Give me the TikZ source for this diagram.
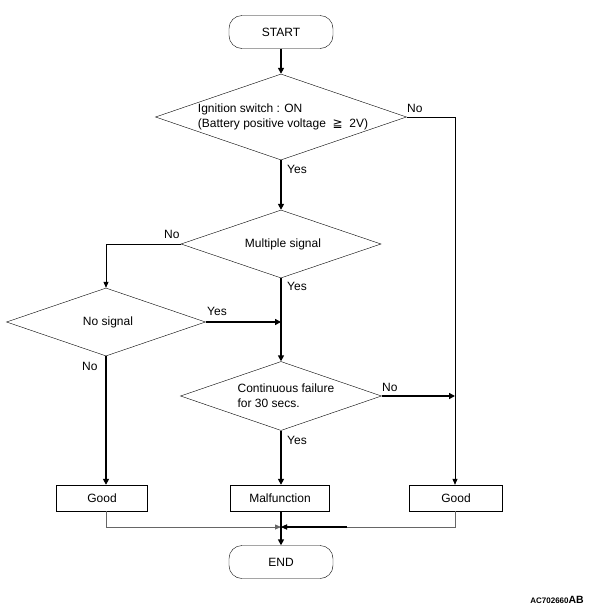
\documentclass[tikz,border=0pt]{standalone}
\usepackage{fontspec}
\setmainfont{Liberation Sans}
\newfontfamily\symfont{DejaVu Sans}
\usetikzlibrary{shapes.geometric,arrows.meta}
\begin{document}
\begin{tikzpicture}[x=1pt,y=-1pt,
  every node/.style={font=\fontsize{12}{15}\selectfont},
  term/.style={draw,rounded corners=13pt,minimum width=104pt,minimum height=33pt,inner sep=0pt},
  dec/.style={draw,diamond,inner sep=0pt},
  dtext/.style={inner sep=0pt,align=left},
  boxn/.style={draw,minimum height=26pt,inner sep=0pt},
  thick flow/.style={line width=2.2pt,-{Triangle[length=6pt,width=6pt]}},
  thin flow/.style={line width=0.8pt,-{Triangle[length=6pt,width=5pt]}},
  lbl/.style={inner sep=0pt,anchor=west}]
\useasboundingbox (0,0) rectangle (595,611);
\node[term] (start) at (281,32) {START};
\node[dec,minimum width=251pt,minimum height=86pt] (d1) at (281,117) {};
\node[dtext] (t1) at (283,117) {Ignition switch : ON\\(Battery positive voltage\ \ {\symfont ≧}\ \ 2V)};
\node[dec,minimum width=200pt,minimum height=68pt] (d2) at (281,244) {};
\node[dtext] (t2) at (283,244) {Multiple signal};
\node[dec,minimum width=199pt,minimum height=68pt] (d3) at (106,322) {};
\node[dtext] (t3) at (108,322) {No signal};
\node[dec,minimum width=201pt,minimum height=69pt] (d4) at (281,396) {};
\node[dtext] (t4) at (286,396) {Continuous failure\\for 30 secs.};
\node[boxn,minimum width=91pt] (g1) at (102,498) {Good};
\node[boxn,minimum width=99pt] (mal) at (280,498) {Malfunction};
\node[boxn,minimum width=93pt] (g2) at (456,498) {Good};
\node[term] (end) at (281,562) {END};
\coordinate (c1) at (455,117);
\coordinate (c2) at (106,244);
\coordinate (m3) at (281,322);
\coordinate (m4) at (455,396);
\coordinate (j) at (281,527);
% flows
\draw[thick flow] (start.south) -- (d1.north);
\draw[thick flow] (d1.south) -- (d2.north);
\draw[thick flow] (d2.south) -- (d4.north);
\draw[thick flow] (d3.east) -- (m3);
\draw[thick flow] (d3.south) -- (g1.north -| d3.south);
\draw[thick flow] (d4.south) -- (mal.north -| d4.south);
\draw[thick flow] (d4.east) -- (m4);
\draw[thin flow] (d1.east) -- (c1) -- (g2.north -| c1);
\draw[thin flow] (d2.west) -- (c2) -- (d3.north);
\draw[thin flow,black!60] (g1.south -| d3.south) |- (j);
\draw[thin flow,black!60] (g2.south -| c1) |- (j);
\draw[line width=1.2pt,-{Triangle[length=6pt,width=5pt]}] (347,527) -- (j);
\draw[thick flow] (mal.south -| d4.south) -- (end.north);
% labels
\node[lbl] at (407,108) {No};
\node[lbl] at (287,169) {Yes};
\node[lbl] at (164,234) {No};
\node[lbl] at (287,286) {Yes};
\node[lbl] at (207,311) {Yes};
\node[lbl] at (82,366) {No};
\node[lbl] at (382,387) {No};
\node[lbl] at (287,440) {Yes};
\node[lbl,anchor=east] (code) at (584,600) {\fontsize{8}{9}\selectfont\bfseries AC702660\fontsize{10.5}{11}\selectfont AB};
\end{tikzpicture}
\end{document}
